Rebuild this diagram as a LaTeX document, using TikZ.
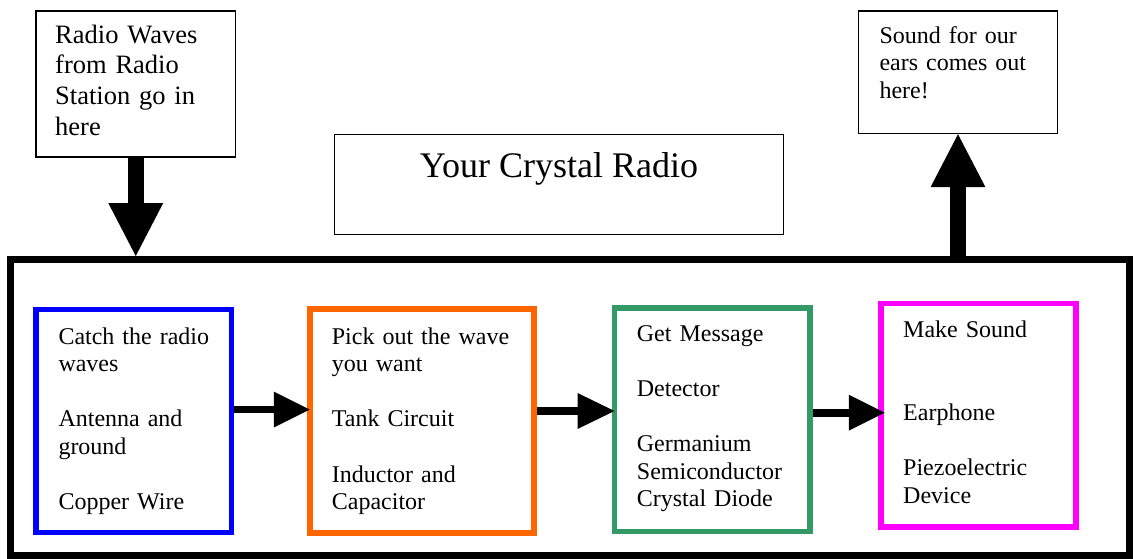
\documentclass[tikz,border=0pt]{standalone}
\usepackage{fontspec}
\setmainfont{Liberation Serif}
\usetikzlibrary{arrows.meta}
\definecolor{cblue}{HTML}{0000FF}
\definecolor{corange}{HTML}{FF6600}
\definecolor{cgreen}{HTML}{339966}
\definecolor{cmag}{HTML}{FF00FF}
\tikzset{
  thinbox/.style={draw=black, line width=1.5pt, rectangle, inner sep=0pt},
  stagebox/.style={draw=#1, line width=5.5pt, rectangle, inner sep=0pt, outer sep=0pt, minimum width=195.5pt, minimum height=223.5pt},
  bigarrow/.style={line width=15.5pt, -{Triangle[length=53pt, width=55pt, line width=0pt]}},
  smallarrow/.style={line width=7.7pt, -{Triangle[length=36pt, width=36pt, line width=0pt]}, shorten <=2.75pt},
  stagetext/.style={anchor=base west, inner sep=0pt, text width=190pt, align=left, font=\fontsize{24}{27.6}\selectfont},
}
\begin{document}
\begin{tikzpicture}[x=1pt, y=-1pt]
\useasboundingbox (0,0) rectangle (1133,559);
% outer box
\node[draw=black, line width=7pt, rectangle, inner sep=0pt, minimum width=1119pt, minimum height=296pt] (big) at (570,407.5) {};
% top boxes
\node[thinbox, minimum width=199.5pt, minimum height=146pt] (tl) at (135.75,84) {};
\node[anchor=base west, inner sep=0pt, text width=180pt, align=left, font=\fontsize{26.5}{30.6}\selectfont] (tltext) at (55,43.3) {Radio Waves\\from Radio\\Station go in\\here};
\node[thinbox, minimum width=199pt, minimum height=122.5pt] (tr) at (958,72.25) {};
\node[anchor=base west, inner sep=0pt, text width=180pt, align=left, font=\fontsize{24}{27.5}\selectfont] (trtext) at (879.3,43.3) {Sound for our\\ears comes out\\here!};
\node[thinbox, minimum width=449pt, minimum height=100pt] (title) at (559,184.5) {};
\node[anchor=base, inner sep=0pt, font=\fontsize{36}{40}\selectfont] (titletext) at (559,178) {Your Crystal Radio};
% stage boxes
\node[stagebox=cblue, minimum width=195.7pt, minimum height=223pt] (blue) at (133.85,421) {};
\node[stagebox=corange, minimum width=224pt, minimum height=223.6pt] (orange) at (421.75,421) {};
\node[stagebox=cgreen] (green) at (712.25,419.55) {};
\node[stagebox=cmag, minimum width=195.2pt] (mag) at (978.4,415.45) {};
\node[stagetext] (bluetext) at (58.3,344) {Catch the radio\\waves\\[27.6pt]Antenna and\\ground\\[27.6pt]Copper Wire};
\node[stagetext] (orangetext) at (331.7,344) {Pick out the wave\\you want\\[27.6pt]Tank Circuit\\[27.6pt]Inductor and\\Capacitor};
\node[stagetext] (greentext) at (636.7,341) {Get Message\\[27.6pt]Detector\\[27.6pt]Germanium\\Semiconductor\\Crystal Diode};
\node[stagetext] (magtext) at (903,337.7) {Make Sound\\[55.2pt]Earphone\\[27.6pt]Piezoelectric\\Device};
% arrows
\draw[bigarrow] (tl.south) -- (tl.south |- big.north);
\draw[bigarrow, line width=16pt] (tr.south |- big.north) -- (tr.south);
\draw[smallarrow] (blue.east |- 0,409.5) -- (orange.west |- 0,409.5);
\draw[smallarrow, -{Triangle[length=37pt, width=36pt, line width=0pt]}] (orange.east |- 0,411) -- (green.west |- 0,411);
\draw[smallarrow, shorten >=-4pt] (green.east |- 0,412.7) -- (mag.west |- 0,412.7);
\end{tikzpicture}
\end{document}
